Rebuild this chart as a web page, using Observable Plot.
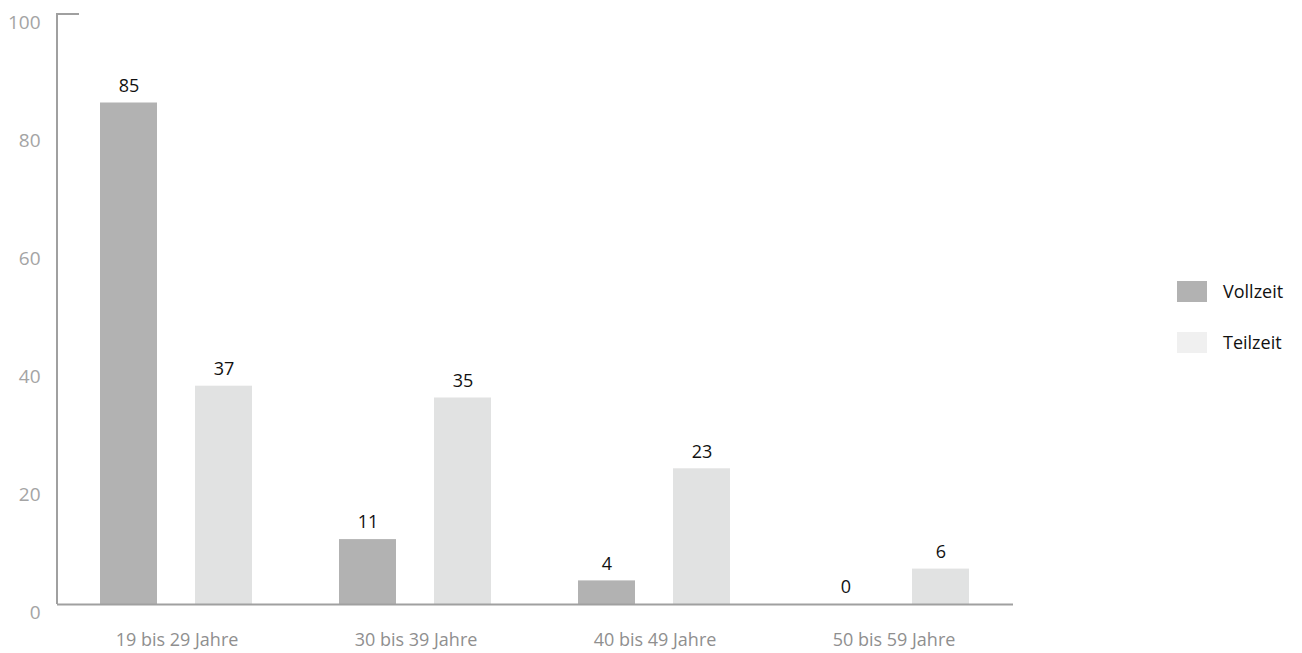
<!DOCTYPE html>
<html>
<head>
<meta charset="utf-8">
<script src="https://cdn.jsdelivr.net/npm/d3@7"></script>
<script src="https://cdn.jsdelivr.net/npm/@observablehq/plot@0.6"></script>
<style>
  html, body { margin: 0; padding: 0; background: #fff; }
  #wrap { position: relative; width: 1302px; height: 653px; font-family: "Open Sans", sans-serif; }
  #legend { position: absolute; left: 1177px; top: 280px; font-size: 18px; color: #111; }
  .item { display: flex; align-items: center; height: 22px; margin-bottom: 29px; }
  .sw { width: 30px; height: 21px; margin-right: 16px; }
</style>
</head>
<body>
<div id="wrap"><div id="legend"></div></div>
<script>
const ageGroups = ["19 bis 29 Jahre", "30 bis 39 Jahre", "40 bis 49 Jahre", "50 bis 59 Jahre"];
const seriesNames = ["Vollzeit", "Teilzeit"];
const vollzeit = [85, 11, 4, 0];
const teilzeit = [37, 35, 23, 6];
const yTicks = [0, 20, 40, 60, 80, 100];
const barColors = ["#b2b2b2", "#e1e2e2"];
const legendColors = ["#b2b2b2", "#f0f0f0"];

const data = [];
ageGroups.forEach((age, i) => {
  data.push({age, type: seriesNames[0], value: vollzeit[i]});
  data.push({age, type: seriesNames[1], value: teilzeit[i]});
});

const chart = Plot.plot({
  width: 1302,
  height: 653,
  marginLeft: 57,
  marginRight: 289,
  marginTop: 14,
  marginBottom: 49,
  style: {fontFamily: "'Open Sans', sans-serif", fontSize: "17px", background: "#fff"},
  fx: {domain: ageGroups, padding: 0, label: null, axis: null},
  x: {domain: seriesNames, paddingInner: 0.396, paddingOuter: 0.443, axis: null},
  y: {domain: [0, 100], axis: null},
  color: {domain: seriesNames, range: barColors},
  marks: [
    Plot.barY(data, {fx: "age", x: "type", y: "value", fill: "type"}),
    Plot.text(data, {fx: "age", x: "type", y: "value", text: d => String(d.value), dy: -17, fill: "#111", fontSize: 18}),
    Plot.ruleY([0], {stroke: "#a0a0a0", strokeWidth: 2}),
    Plot.axisY({ticks: yTicks, tickSize: 0, tickPadding: 17, dy: 8, fill: "#a4a4a4", fontSize: 19, label: null, facetAnchor: "left"}),
    Plot.axisFx({anchor: "bottom", tickSize: 0, tickPadding: 29, fill: "#8f8f8f", fontSize: 18, label: null})
  ]
});

// y-axis line with top tick, positioned through the plot's y scale
const yS = chart.scale("y");
const xLeft = 57;
d3.select(chart).append("path")
  .attr("d", `M${xLeft + 22},${yS.apply(100)}H${xLeft}V${yS.apply(0)}`)
  .attr("fill", "none")
  .attr("stroke", "#a0a0a0")
  .attr("stroke-width", 2);

document.getElementById("wrap").prepend(chart);

const legend = d3.select("#legend");
seriesNames.forEach((name, i) => {
  const item = legend.append("div").attr("class", "item");
  item.append("div").attr("class", "sw").style("background", legendColors[i]);
  item.append("span").text(name);
});
</script>
</body>
</html>
